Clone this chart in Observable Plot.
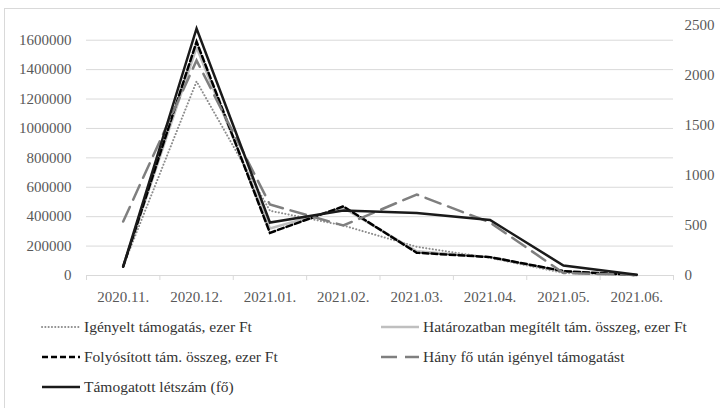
<!DOCTYPE html>
<html>
<head>
<meta charset="utf-8">
<script src="https://cdn.jsdelivr.net/npm/d3@7"></script>
<script src="https://cdn.jsdelivr.net/npm/@observablehq/plot@0.6"></script>
<style>
  html, body { margin: 0; padding: 0; background: #fff; }
  body { width: 720px; height: 408px; overflow: hidden; position: relative; font-family: "Liberation Serif", "Times New Roman", Tinos, "DejaVu Serif", serif; }
  #frame { position: absolute; left: 4px; top: 8px; width: 730px; height: 420px; border-left: 1px solid #d9d9d9; border-top: 1px solid #d9d9d9; box-sizing: border-box; }
  #chart { position: absolute; left: 0; top: 0; }
  #legend { position: absolute; left: 0; top: 310px; width: 720px; height: 98px; font-size: 15.5px; color: #333; }
  .item { position: absolute; display: flex; align-items: center; white-space: nowrap; }
  .item svg { margin-right: 3px; }
  svg text { font-family: "Liberation Serif", "Times New Roman", Tinos, "DejaVu Serif", serif; }
</style>
</head>
<body>
<div id="frame"></div>
<div id="chart"></div>
<div id="legend"></div>
<script>
const months = ["2020.11.", "2020.12.", "2021.01.", "2021.02.", "2021.03.", "2021.04.", "2021.05.", "2021.06."];
const igenyelt    = [65000, 1320000, 440000, 340000, 195000, 120000, 17000, 3000];
const hatarozat   = [62000, 1550000, 320000, 460000, 165000, 125000, 25000, 3000];
const folyositott = [60000, 1590000, 290000, 470000, 155000, 125000, 30000, 3000];
const hanyFo      = [540, 2150, 710, 500, 810, 530, 25, 5];
const letszam     = [90, 2470, 530, 650, 625, 555, 100, 8];
const leftTicks  = [0, 200000, 400000, 600000, 800000, 1000000, 1200000, 1400000, 1600000];
const rightTicks = [0, 500, 1000, 1500, 2000, 2500];
const seriesNames = [
  "Igényelt támogatás, ezer Ft",
  "Határozatban megítélt tám. összeg, ezer Ft",
  "Folyósított tám. összeg, ezer Ft",
  "Hány fő után igényel támogatást",
  "Támogatott létszám (fő)"
];

const leftMax = 1700000, rightMax = 2500, k = leftMax / rightMax;
const FONT = "'Liberation Serif', 'Times New Roman', Tinos, 'DejaVu Serif', serif";

const styles = [
  {stroke: "#8c8c8c", strokeWidth: 2, strokeDasharray: "0.1,3.2", strokeLinecap: "round"},
  {stroke: "#bfbfbf", strokeWidth: 2.5},
  {stroke: "#000000", strokeWidth: 2.5, strokeDasharray: "6,3"},
  {stroke: "#7f7f7f", strokeWidth: 2.5, strokeDasharray: "16,8"},
  {stroke: "#1a1a1a", strokeWidth: 2.5}
];
const values = [igenyelt, hatarozat, folyositott, hanyFo, letszam];
const secondary = [false, false, false, true, true];

const rows = values.map((arr, s) => arr.map((v, i) => ({i, v: secondary[s] ? v * k : v, s})));
const bounds = d3.range(months.length + 1).map(j => j - 0.5);

const plot = Plot.plot({
  width: 720,
  height: 310,
  marginTop: 25,
  marginBottom: 35,
  marginLeft: 86,
  marginRight: 47,
  style: {fontFamily: FONT, fontSize: "15px", color: "#595959", background: "transparent"},
  x: {type: "linear", domain: [-0.5, months.length - 0.5]},
  y: {domain: [0, leftMax]},
  marks: [
    Plot.ruleY(leftTicks.slice(1), {stroke: "#d9d9d9", strokeWidth: 1}),
    Plot.ruleY([0], {stroke: "#d9d9d9", strokeWidth: 1}),
    Plot.axisX(bounds, {tickSize: 5, tickFormat: () => "", stroke: "#d9d9d9", label: null}),
    Plot.axisX(d3.range(months.length), {tickSize: 0, tickPadding: 16, tickFormat: i => months[i], label: null, fill: "#595959"}),
    Plot.axisY(leftTicks, {anchor: "left", tickSize: 0, tickPadding: 15, tickFormat: d => String(d), label: null, fill: "#595959"}),
    Plot.axisY(rightTicks.map(v => v * k), {anchor: "right", tickSize: 0, tickPadding: 11, tickFormat: d => String(Math.round(d / k)), label: null, fill: "#595959"}),
    ...rows.map((r, s) => Plot.line(r, {x: "i", y: "v", ...styles[s], strokeLinejoin: "miter", strokeMiterlimit: 10}))
  ]
});
document.getElementById("chart").appendChild(plot);

// legend
const legend = d3.select("#legend");
const pos = [
  {x: 41, y: 17}, {x: 380, y: 17},
  {x: 41, y: 47}, {x: 380, y: 47},
  {x: 41, y: 77}
];
seriesNames.forEach((name, s) => {
  const it = legend.append("div").attr("class", "item")
    .style("left", pos[s].x + "px").style("top", (pos[s].y - 10) + "px").style("height", "20px");
  const sw = it.append("svg").attr("width", 40).attr("height", 10);
  const st = styles[s];
  sw.append("line").attr("x1", 1).attr("x2", 39).attr("y1", 5).attr("y2", 5)
    .attr("stroke", st.stroke).attr("stroke-width", st.strokeWidth)
    .attr("stroke-dasharray", st.strokeDasharray || null)
    .attr("stroke-linecap", st.strokeLinecap || "butt");
  it.append("span").text(name);
});
</script>
</body>
</html>
